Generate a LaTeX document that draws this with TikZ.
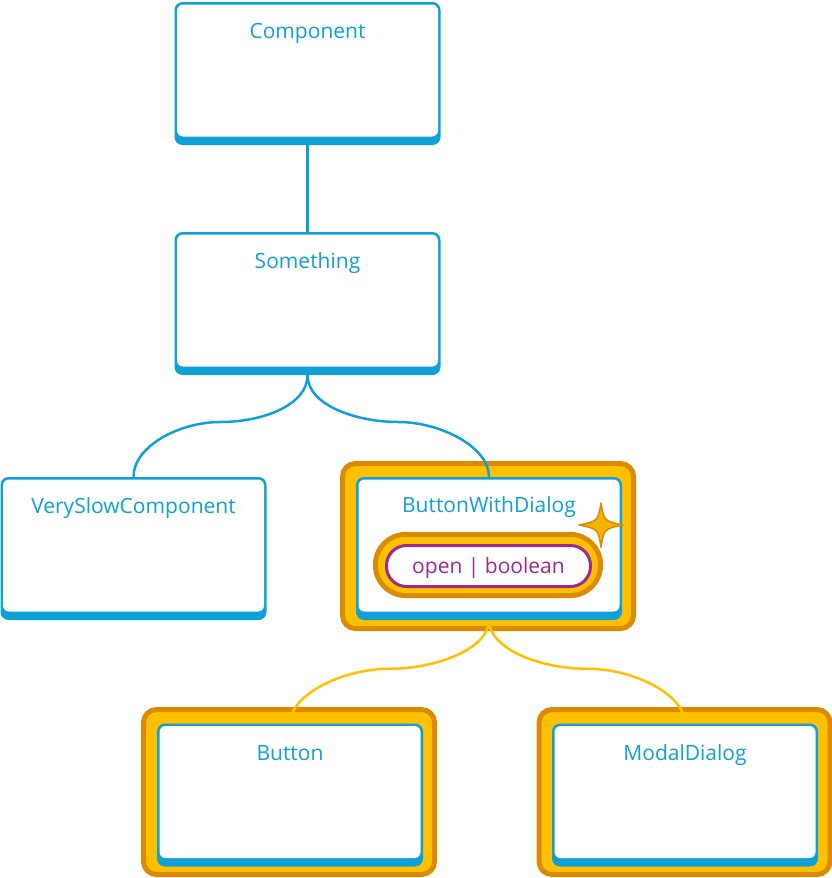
\documentclass[tikz,border=0pt]{standalone}
\usepackage{fontspec}
\setmainfont{Open Sans}
\usetikzlibrary{calc,backgrounds}
\definecolor{cblue}{HTML}{109FD7}
\definecolor{dorange}{HTML}{DB8B00}
\definecolor{cyellow}{HTML}{FFC000}
\definecolor{cpurple}{HTML}{9C2A8F}
\definecolor{cstar}{HTML}{F5B300}
\begin{document}
\begin{tikzpicture}[x=1pt,y=-1pt,
  box/.style={fill=cblue, rounded corners=8pt, minimum width=266pt, minimum height=143pt, inner sep=0pt,
    path picture={\fill[white, rounded corners=6pt]
      ([xshift=2.5pt,yshift=-2.5pt]path picture bounding box.north west) rectangle
      ([xshift=-2.5pt,yshift=8.5pt]path picture bounding box.south east);}},
  frame/.style={fill=cyellow, draw=dorange, line width=5pt, rounded corners=13pt, minimum width=291pt, minimum height=165pt, inner sep=0pt},
  lbl/.style={anchor=base, text=cblue, font=\fontsize{21}{25}\selectfont, inner sep=0pt},
  bconn/.style={draw=cblue, line width=2.5pt},
  yconn/.style={draw=cyellow, line width=2.5pt},
]
\useasboundingbox (0,0) rectangle (832,878);
% boxes
\node[box] (comp) at (307.5,73.5) {};
\node[box] (some) at (307.5,303.5) {};
\node[box] (vslow) at (133.5,548.5) {};
\node[box] (bwd) at (489,548.5) {};
\node[box] (button) at (290,795) {};
\node[box] (modal) at (685,795) {};
\begin{pgfonlayer}{background}
% frames
\node[frame] (bwdF) at (488,546) {};
\node[frame] (buttonF) at (289,792) {};
\node[frame] (modalF) at (684.5,792) {};
% connectors
\coordinate (m1) at ($(some.south)!0.5!(vslow.north)+(0,-4)$);
\coordinate (m2) at ($(some.south)!0.5!(bwd.north)+(0,-4)$);
\coordinate (m3) at ($(bwd.south)!0.5!(button.north)+(0,-3)$);
\coordinate (m4) at ($(bwd.south)!0.5!(modal.north)+(0,-3)$);
\draw[bconn, line width=3pt] (comp.south) -- (some.north);
\draw[bconn] (some.south) .. controls +(0,30) and +(42,0) .. (m1) .. controls +(-42,0) and +(0,-30) .. (vslow.north);
\draw[bconn] (some.south) .. controls +(0,30) and +(-42,0) .. (m2) .. controls +(42,0) and +(0,-30) .. (bwd.north);
\draw[yconn] (bwd.south) .. controls +(0,28) and +(48,0) .. (m3) .. controls +(-48,0) and +(0,-28) .. (button.north);
\draw[yconn] (bwd.south) .. controls +(0,28) and +(-48,0) .. (m4) .. controls +(48,0) and +(0,-28) .. (modal.north);
\end{pgfonlayer}
% labels
\node[lbl] (compL) at ([yshift=-37pt]comp.north) {Component};
\node[lbl] (someL) at ([yshift=-37pt]some.north) {Something};
\node[lbl] (vslowL) at ([yshift=-37pt]vslow.north) {VerySlowComponent};
\node[lbl] (bwdL) at ([yshift=-36pt]bwd.north) {ButtonWithDialog};
\node[lbl] (buttonL) at ([yshift=-37pt]button.north) {Button};
\node[lbl] (modalL) at ([yshift=-37pt]modal.north) {ModalDialog};
% pill
\node[fill=cyellow, draw=dorange, line width=5pt, rounded corners=30pt, minimum width=225pt, minimum height=61pt, inner sep=0pt] (pillF) at (488,565) {};
\node[fill=white, draw=cpurple, line width=3pt, rounded corners=20pt, minimum width=204pt, minimum height=41pt, inner sep=0pt] (pill) at (488.5,566) {};
\node[lbl, text=cpurple] (pillL) at (488.5,573) {open | boolean};
% star
\draw[fill=cstar, draw=dorange, line width=1.5pt, line join=round]
  (601,503) .. controls (604,521) .. (623,525) .. controls (604,529) .. (601,547)
  .. controls (598,529) .. (579,525) .. controls (598,521) .. cycle;
\end{tikzpicture}
\end{document}
